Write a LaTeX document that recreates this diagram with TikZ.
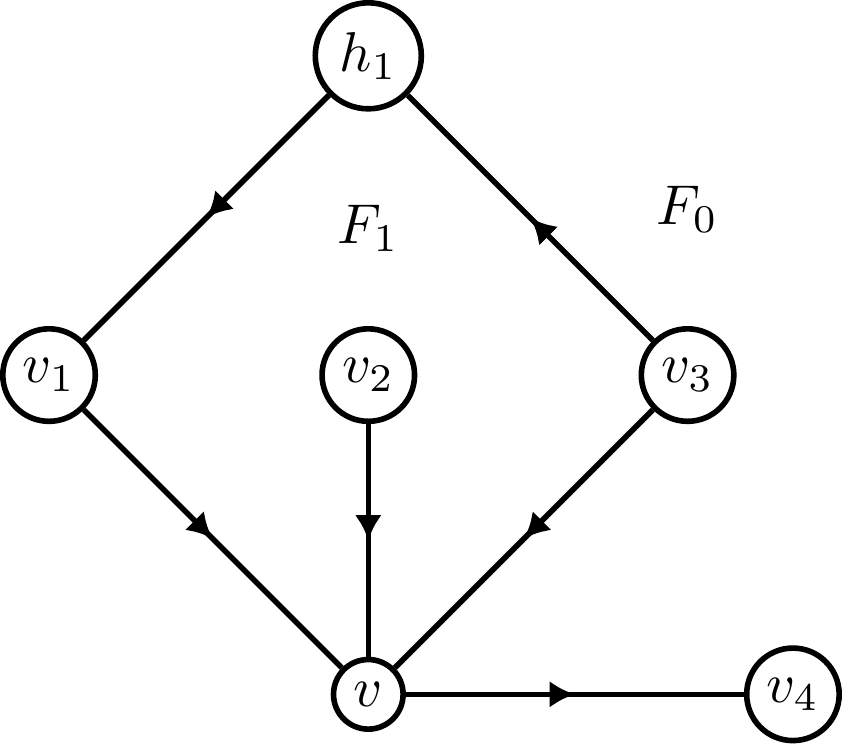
\documentclass[tikz,border=0pt]{standalone}
\usepackage{amssymb}
\usepackage{amsmath}
\usetikzlibrary{arrows.meta,decorations.markings}

\begin{document}
\begin{tikzpicture}[line width=1pt,
    vert/.style={draw,circle,inner sep=2pt},
    midarrow/.style={postaction={decorate},decoration={markings,
      mark=at position 0.5 with {\arrow{Latex[length=4.5pt,width=4.8pt]}}}}]
      \node[vert] (h1) at (0,4) {$h_1$};
      \node[vert] (v1) at (-2,2) {$v_1$};
      \node[vert] (v2) at (0,2) {$v_2$};
      \node[vert] (v3) at (2,2) {$v_3$};
      \node[vert] (v) at (0,0) {$v$};
      \node[vert] (v4) at (2.66,0) {$v_4$};
      \node (f1) at (0,2.92) {$F_1$};
      \node (f0) at (2,3.04) {$F_0$};
      \draw[midarrow] (h1) -- (v1);
      \draw[midarrow] (v3) -- (h1);
      \draw[midarrow] (v1) -- (v);
      \draw[midarrow] (v2) -- (v);
      \draw[midarrow] (v3) -- (v);
      \draw[midarrow] (v) -- (v4);
      % \draw[very thin,color=gray] (-2,0) grid (3,4);
\end{tikzpicture}
\end{document}
